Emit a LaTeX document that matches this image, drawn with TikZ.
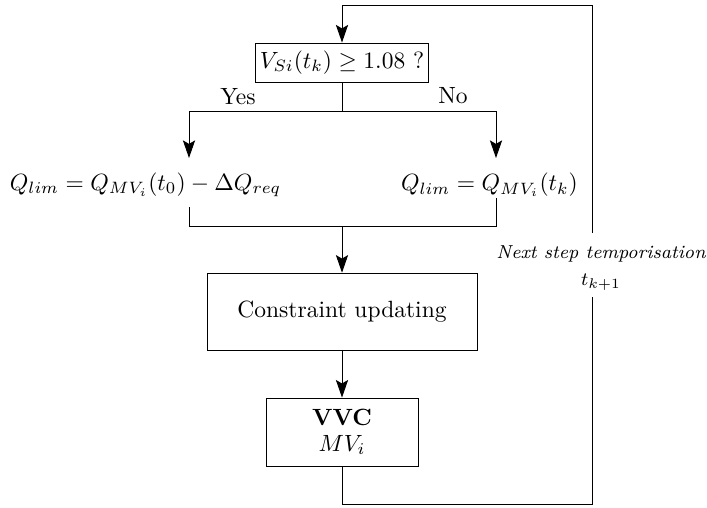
\documentclass[tikz,border=0pt]{standalone}
\usepackage{amsmath,amssymb}
\usetikzlibrary{arrows.meta}
\begin{document}
\begin{tikzpicture}[x=0.4255pt,y=-0.4255pt,
  arr/.style={-{Stealth[length=7.5pt,width=5.2pt,inset=1.5pt]}},
  boxnode/.style={draw,inner xsep=1.8pt,inner ysep=3.3pt},
  plain/.style={inner sep=0pt}]
\useasboundingbox (0,0) rectangle (707,507);
% decision
\node[boxnode] (dec) at (342,62.5) {$V_{Si}(t_k)\geq 1.08$ ?};
\node[plain] (yes) at (238,97) {Yes};
\node[plain] (no) at (453,96) {No};
\coordinate (split) at (342,111);
\coordinate (cl) at (189,111);
\coordinate (cr) at (496,111);
% results
\node[plain] (qL) at (145.5,185) {$Q_{lim}=Q_{MV_i}(t_0)-\Delta Q_{req}$};
\node[plain] (qR) at (489.5,185) {$Q_{lim}=Q_{MV_i}(t_k)$};
\coordinate (aL) at (189,158);
\coordinate (aR) at (496,158);
\coordinate (bL) at (189,207);
\coordinate (bR) at (496,198);
\coordinate (jL) at (189,226);
\coordinate (jR) at (496,226);
\coordinate (join) at (342,226);
% constraint & VVC
\node[draw,minimum width=114.9pt,minimum height=32.8pt,inner sep=0pt] (cons) at (342,311.7) {Constraint updating};
\node[draw,minimum width=64.7pt,minimum height=28.9pt,inner sep=0pt,align=center] (vvc) at (342,432) {\textbf{VVC}\\[-1pt] $MV_i$};
% loop
\coordinate (lb) at (592,504);
\coordinate (g1) at (592,297);
\coordinate (g2) at (592,233);
\coordinate (tr) at (592,5);
\coordinate (tl) at (342,5);
\node[plain,align=center,font=\footnotesize\itshape] (lab) at (601,268) {Next step temporisation\\[2pt] $t_{k+1}$};
% connectors
\draw (dec.south) -- (split);
\draw (cl) -- (cr);
\draw[arr] (cl) -- (aL);
\draw[arr] (cr) -- (aR);
\draw (bL) -- (jL) -- (jR) -- (bR);
\draw[arr] (join) -- (cons.north);
\draw[arr] (cons.south) -- (vvc.north);
\draw (vvc.south) |- (lb) -- (g1);
\draw[arr] (g2) -- (tr) -- (tl) -- (dec.north);
\end{tikzpicture}
\end{document}
